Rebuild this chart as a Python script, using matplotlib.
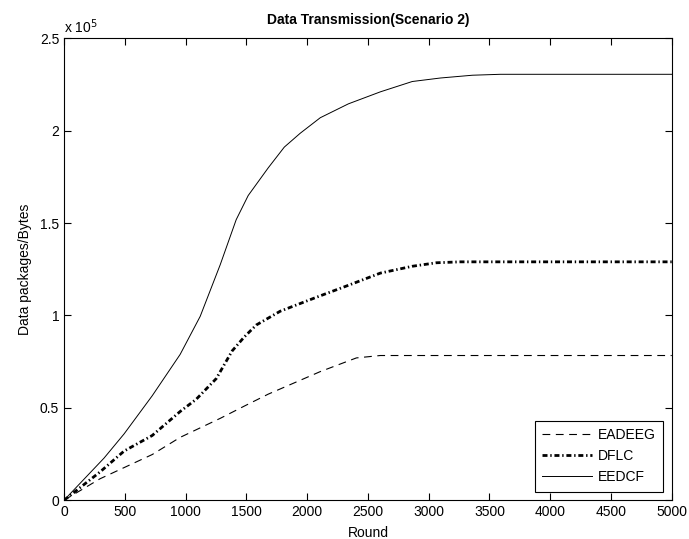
import numpy as np
import matplotlib.pyplot as plt

plt.rcParams['font.family'] = ['Liberation Sans', 'DejaVu Sans']

# data in units of 1e5 bytes
eedcf_x = [0, 329, 494, 725, 955, 1120, 1285, 1416, 1515, 1680, 1812, 1943, 2108, 2339, 2602, 2865, 3097, 3360, 3590, 5000]
eedcf_y = [0, 0.228, 0.359, 0.565, 0.789, 0.995, 1.275, 1.518, 1.649, 1.799, 1.911, 1.986, 2.07, 2.145, 2.21, 2.266, 2.285, 2.30, 2.305, 2.305]

dflc_x = [0, 296, 494, 725, 955, 1087, 1252, 1383, 1482, 1581, 1779, 2075, 2339, 2602, 2865, 3063, 3261, 5000]
dflc_y = [0, 0.153, 0.266, 0.35, 0.48, 0.546, 0.658, 0.808, 0.883, 0.948, 1.023, 1.098, 1.163, 1.229, 1.266, 1.285, 1.29, 1.29]

eadeeg_x = [0, 296, 725, 955, 1285, 1482, 1680, 2108, 2405, 2602, 5000]
eadeeg_y = [0, 0.116, 0.247, 0.34, 0.443, 0.509, 0.574, 0.696, 0.77, 0.783, 0.783]

fig = plt.figure(figsize=(6.89, 5.39), dpi=100)
ax = fig.add_axes([0.093, 0.072, 0.882, 0.857])

ax.plot(eadeeg_x, eadeeg_y, color="black", lw=0.8, dashes=(7, 5), label="EADEEG")
ax.plot(dflc_x, dflc_y, color="black", lw=2.0, dashes=(1.8, 1.0, 0.5, 1.0), label="DFLC")
ax.plot(eedcf_x, eedcf_y, color="black", lw=0.7, label="EEDCF")

ax.set_xlim(0, 5000)
ax.set_ylim(0, 2.5)
ax.set_xticks(np.arange(0, 5001, 500))
ax.set_yticks([0, 0.5, 1, 1.5, 2, 2.5])
ax.set_yticklabels(["0", "0.5", "1", "1.5", "2", "2.5"])
ax.tick_params(direction="in", top=True, right=True, labelsize=10, length=5)
for s in ax.spines.values():
    s.set_linewidth(0.8)

ax.text(0.0, 1.005, r"x 10$^5$", transform=ax.transAxes, fontsize=10, va="bottom", ha="left")
ax.set_title("Data Transmission(Scenario 2)", fontsize=10, fontweight="bold", pad=10)
ax.set_xlabel("Round", fontsize=10, labelpad=5)
ax.set_ylabel("Data packages/Bytes", fontsize=10, labelpad=6)

leg = ax.legend(loc="lower right", fontsize=10, fancybox=False, framealpha=1,
                edgecolor="black", borderaxespad=0.6, handlelength=3.6,
                borderpad=0.55, handletextpad=0.4)
leg.get_frame().set_linewidth(0.8)

plt.savefig("out.png", dpi=100)
